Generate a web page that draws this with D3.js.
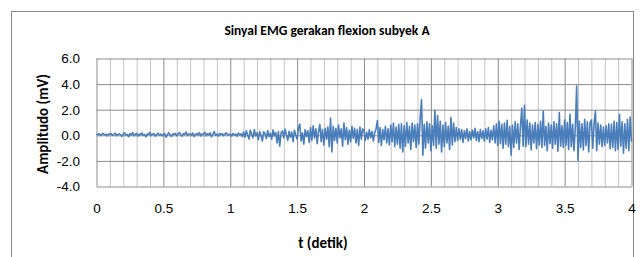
<!DOCTYPE html>
<html>
<head>
<meta charset="utf-8">
<script src="https://cdnjs.cloudflare.com/ajax/libs/d3/7.8.5/d3.min.js"></script>
<style>
  body { margin: 0; background: #fff; }
  svg { display: block; font-family: Calibri, Carlito, Lato, "Open Sans", sans-serif; }
</style>
</head>
<body>
<svg width="640" height="257"></svg>
<script>
// EMG samples (mV), every 0.01 s
var emg0 = [
  0.10, 0.05, 0.12, -0.02, 0.08, 0.15, 0.02, 0.09, -0.05, 0.11,
  0.06, 0.14, 0.00, 0.08, 0.18, -0.04, 0.07, 0.12, 0.03, -0.08,
  0.09, 0.20, 0.01, 0.06, -0.10, 0.13, 0.04, 0.22, -0.03, 0.08,
  0.15, -0.06, 0.10, 0.03, 0.19, 0.00, 0.07, -0.12, 0.11, 0.05,
  0.24, -0.02, 0.09, 0.14, -0.07, 0.06, 0.17, 0.01, 0.10, -0.04,
  0.08, 0.13, -0.15, 0.05, 0.20, 0.02, -0.08, 0.12, 0.06, 0.16,
  -0.03, 0.10, 0.22, 0.04, -0.06, 0.14, 0.07, 0.26, -0.02, 0.09,
  0.12, 0.00, 0.18, -0.10, 0.06, 0.15, 0.03, 0.21, -0.05, 0.11,
  0.07, 0.25, -0.04, 0.13, 0.02, 0.19, -0.12, 0.08, 0.30, 0.01,
  0.10, -0.06, 0.16, 0.05, 0.12, -0.02, 0.09, 0.20, 0.03, 0.07
];
var emg1 = [
  0.08, -0.05, 0.14, 0.02, 0.10, -0.08, 0.18, 0.04, 0.12, -0.10,
  0.25, -0.15, 0.35, 0.05, -0.30, 0.40, 0.10, -0.20, 0.45, -0.05,
  0.20, -0.35, 0.30, 0.00, -0.45, 0.28, 0.12, -0.25, 0.38, -0.10,
  0.15, -0.30, 0.42, -0.05, 0.22, -0.60, 0.30, -0.85, 0.18, 0.35,
  -0.20, 0.48, 0.05, -0.40, 0.32, -0.15, 0.25, -0.50, 0.40, 0.02,
  -0.30, 0.55, 0.88, -0.45, 0.20, -0.70, 0.45, -0.10, 0.35, -0.55,
  0.60, -0.40, 0.75, -0.20, 0.50, -0.65, 0.30, 0.85, -0.50, 0.45,
  -0.75, 0.55, -0.30, 0.65, -0.90, 1.35, -1.30, 0.70, -0.40, 0.55,
  -0.60, 0.80, -0.20, 0.50, -0.85, 0.95, -0.35, 0.60, -0.70, 0.40,
  -0.50, 0.70, -0.25, 0.55, -0.60, 0.45, -0.80, 0.65, -0.30, 0.50
];
var emg2 = [
  0.35, -0.40, 0.25, -0.30, 0.45, -0.20, 0.30, -0.45, 0.20, 0.50,
  1.15, -0.55, 0.60, -0.80, 0.45, -0.35, 0.70, -0.60, 0.50, -0.75,
  0.80, -0.50, 0.95, -0.90, 0.65, -0.70, 0.85, -1.00, 0.90, -1.30,
  0.75, -0.85, 1.00, -0.60, 0.70, -1.10, 0.95, -0.50, 0.80, -0.95,
  0.90, -0.70, 1.30, 2.80, -1.55, 0.85, -1.00, 1.05, -0.60, 0.90,
  -1.20, 0.75, -0.80, 1.95, -1.00, 1.55, -0.70, 1.10, -1.30, 0.80,
  -0.90, 1.00, -0.60, 0.70, -1.10, 1.38, -0.75, 0.95, -0.50, 0.60,
  -0.40, 0.50, -0.30, 0.45, -0.55, 0.35, -0.25, 0.50, -0.45, 0.30,
  -0.35, 0.40, -0.20, 0.55, -0.40, 0.30, -0.50, 0.45, -0.25, 0.35,
  -0.45, 0.50, -0.30, 0.60, -0.55, 0.40, -0.35, 0.75, -0.60, 0.90
];
var emg3 = [
  -0.80, 1.10, -0.65, 0.85, -1.00, 0.95, -0.70, 1.17, -0.90, 0.70,
  -1.56, 0.80, -0.95, 1.05, -0.60, 0.90, -1.10, 0.75, 2.10, -0.85,
  2.35, -0.90, 1.20, -0.70, 0.95, -1.15, 0.80, -0.60, 1.00, -1.05,
  0.85, -0.75, 1.10, -0.95, 1.90, -0.80, 0.70, -1.20, 0.95, -0.65,
  0.80, -1.00, 1.05, -0.70, 0.90, -1.25, 1.77, -0.85, 0.75, -0.95,
  1.20, -0.80, 1.00, -1.10, 1.64, -0.90, 0.85, -1.20, 0.60, 3.85,
  -1.95, 1.10, -0.95, 0.90, -1.15, 1.25, -0.80, 1.05, -1.30, 0.95,
  1.20, -1.00, 0.85, 1.90, -1.20, 0.95, -0.70, 0.80, -0.90, 0.65,
  -0.80, 0.75, -0.60, 0.90, -1.05, 0.85, -0.95, 1.10, -1.20, 1.00,
  -1.10, 1.64, -0.85, 1.05, -1.40, 0.90, -1.00, 1.25, -1.20, 1.43,
  -0.50
];
var sampleStep = 0.01;   // s

var xTicks = [0, 0.5, 1, 1.5, 2, 2.5, 3, 3.5, 4];
var xMinor = [0.1, 0.2, 0.3, 0.4, 0.6, 0.7, 0.8, 0.9, 1.1, 1.2, 1.3, 1.4, 1.6, 1.7, 1.8, 1.9,
              2.1, 2.2, 2.3, 2.4, 2.6, 2.7, 2.8, 2.9, 3.1, 3.2, 3.3, 3.4, 3.6, 3.7, 3.8, 3.9];
var yTicks = [-4, -2, 0, 2, 4, 6];

var title = "Sinyal EMG gerakan flexion subyek A",
    xTitle = "t (detik)",
    yTitle = "Amplitudo (mV)";

var samples = emg0.concat(emg1, emg2, emg3).map(function(v, i) {
    return {t: i * sampleStep, v: v};
});

var svg = d3.select("svg"),
    margin = {top: 58.5, right: 8.5, bottom: 70.5, left: 96.5},
    width = +svg.attr("width") - margin.left - margin.right,
    height = +svg.attr("height") - margin.top - margin.bottom;

// chart area frame
svg.append("rect")
    .attr("x", 11.5).attr("y", 11.5)
    .attr("width", 622).attr("height", 270)
    .attr("fill", "#fff")
    .attr("stroke", "#868686");

var g = svg.append("g")
    .attr("transform", "translate(" + margin.left + "," + margin.top + ")");

var x = d3.scaleLinear().domain([0, 4]).range([0, width]);
var y = d3.scaleLinear().domain([-4, 6]).range([height, 0]);

// minor vertical grid
g.append("g")
    .attr("transform", "translate(0," + height + ")")
    .call(d3.axisBottom(x).tickValues(xMinor).tickSize(-height).tickFormat(""))
    .call(function(a) {
        a.select(".domain").remove();
        a.selectAll("line").attr("stroke", "#c4c4c4");
    });

// horizontal grid + y labels
g.append("g")
    .call(d3.axisLeft(y).tickValues(yTicks).tickSize(-width).tickPadding(16.5)
        .tickFormat(function(d) { return d.toFixed(1); }))
    .call(function(a) {
        a.select(".domain").remove();
        a.selectAll("line").attr("stroke", "#8c8c8c");
        a.selectAll("text").attr("fill", "#000").style("font-size", "13.5px")
            .attr("x", -16.5);
    });

// major vertical grid + x labels
g.append("g")
    .attr("transform", "translate(0," + height + ")")
    .call(d3.axisBottom(x).tickValues(xTicks).tickSize(-height).tickPadding(17)
        .tickFormat(function(d) { return String(d); }))
    .call(function(a) {
        a.select(".domain").remove();
        a.selectAll("line").attr("stroke", "#8c8c8c");
        a.selectAll("text").attr("fill", "#000").style("font-size", "13.5px")
            .attr("y", 17);
    });

var line = d3.line()
    .x(function(d) { return x(d.t); })
    .y(function(d) { return y(d.v); });

g.append("path")
    .datum(samples)
    .attr("fill", "none")
    .attr("stroke", "#4a7ebb")
    .attr("stroke-width", 1.6)
    .attr("stroke-linejoin", "round")
    .attr("d", line);

svg.append("text")
    .attr("x", 327).attr("y", 30)
    .attr("dy", "0.35em")
    .attr("text-anchor", "middle")
    .style("font-size", "13.5px")
    .style("font-weight", "bold")
    .text(title);

svg.append("text")
    .attr("x", 323).attr("y", 243)
    .attr("dy", "0.35em")
    .attr("text-anchor", "middle")
    .style("font-size", "15px")
    .style("font-weight", "bold")
    .text(xTitle);

svg.append("text")
    .attr("transform", "translate(43,124) rotate(-90)")
    .attr("dy", "0.35em")
    .attr("text-anchor", "middle")
    .style("font-size", "15px")
    .style("font-weight", "bold")
    .text(yTitle);
</script>
</body>
</html>
